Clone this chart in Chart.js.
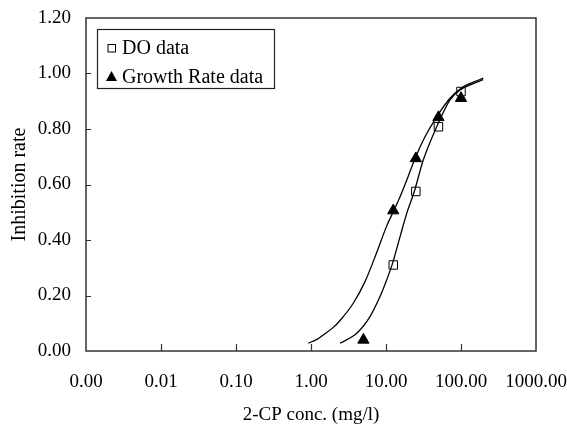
<!DOCTYPE html>
<html>
<head>
<meta charset="utf-8">
<script src="https://cdn.jsdelivr.net/npm/chart.js@4/dist/chart.umd.min.js"></script>
<style>
  html, body { margin: 0; padding: 0; background: #fff; }
  #wrap { width: 567px; height: 426px; }
</style>
</head>
<body>
<div id="wrap"><canvas id="graph" width="567" height="426"></canvas></div>
<script>
// axis ticks
const xTicks = [0.001, 0.01, 0.1, 1, 10, 100, 1000];
const xTickLabels = ['0.00', '0.01', '0.10', '1.00', '10.00', '100.00', '1000.00'];
const yTicks = [0, 0.2, 0.4, 0.6, 0.8, 1.0, 1.2];
const yTickLabels = ['0.00', '0.20', '0.40', '0.60', '0.80', '1.00', '1.20'];

// measured points
const doConc = [12.5, 25, 50, 100];
const doInhib = [0.31, 0.575, 0.808, 0.935];
const growthConc = [5, 12.5, 25, 50, 100];
const growthInhib = [0.04, 0.506, 0.694, 0.842, 0.911];

// fitted curves
const doFitConc = [2.44, 4.07, 6.12, 8.32, 10.2, 12.1, 15.4, 18.9, 23.8, 31.4, 47.4, 71.3, 97, 140, 198];
const doFitInhib = [0.028, 0.064, 0.124, 0.196, 0.256, 0.312, 0.412, 0.496, 0.574, 0.688, 0.808, 0.905, 0.941, 0.962, 0.978];
const growthFitConc = [0.92, 1.2, 1.46, 2.0, 2.44, 3.66, 5.25, 7.52, 10.2, 12.5, 15.4, 19.8, 24.4, 33.1, 47.4, 71.3, 107, 146, 198];
const growthFitInhib = [0.028, 0.042, 0.058, 0.086, 0.11, 0.172, 0.25, 0.355, 0.45, 0.502, 0.556, 0.63, 0.694, 0.772, 0.844, 0.911, 0.952, 0.969, 0.983];

const FONT = 'Liberation Serif, Times New Roman, serif';

function pts(xs, ys) {
  return xs.map((v, i) => ({ x: v, y: ys[i] }));
}

// no extra room for overhanging end labels, the layout padding decides
function noOverhang(s) {
  s.paddingTop = 0;
  s.paddingBottom = 0;
  s.paddingLeft = 0;
  s.paddingRight = 0;
}

// box around the plot, inside tick marks and the boxed legend
const framePlugin = {
  id: 'frame',
  afterDraw(chart) {
    const ctx = chart.ctx;
    const a = chart.chartArea;
    const sx = chart.scales.x, sy = chart.scales.y;
    ctx.save();
    ctx.strokeStyle = '#333';
    ctx.lineWidth = 1.5;
    ctx.strokeRect(a.left, a.top, a.right - a.left, a.bottom - a.top);

    ctx.lineWidth = 1.2;
    ctx.beginPath();
    xTicks.slice(1, -1).forEach(v => {
      const px = Math.round(sx.getPixelForValue(v)) + 0.5;
      ctx.moveTo(px, a.bottom);
      ctx.lineTo(px, a.bottom - 7);
    });
    yTicks.slice(1, -1).forEach(v => {
      const py = Math.round(sy.getPixelForValue(v)) + 0.5;
      ctx.moveTo(a.left, py);
      ctx.lineTo(a.left + 5, py);
    });
    ctx.stroke();

    // legend
    const lx = a.left + 11, ly = a.top + 11, lw = 177, lh = 59;
    ctx.fillStyle = '#fff';
    ctx.fillRect(lx, ly, lw, lh);
    ctx.strokeStyle = '#222';
    ctx.lineWidth = 1.2;
    ctx.strokeRect(lx + 0.5, ly + 0.5, lw, lh);

    const items = chart.data.datasets.filter(d => d.inLegend);
    ctx.font = '20px ' + FONT;
    ctx.textBaseline = 'middle';
    items.forEach((d, i) => {
      const cy = ly + 19 + i * 28.5;
      const cx = lx + 14.5;
      ctx.lineWidth = 1;
      ctx.strokeStyle = '#000';
      ctx.fillStyle = '#000';
      if (d.pointStyle === 'rect') {
        ctx.strokeRect(cx - 3.5, cy - 3.5, 7.5, 7.5);
      } else {
        ctx.beginPath();
        ctx.moveTo(cx, cy - 5.5);
        ctx.lineTo(cx + 5.5, cy + 4.5);
        ctx.lineTo(cx - 5.5, cy + 4.5);
        ctx.closePath();
        ctx.fill();
      }
      ctx.fillText(d.label, lx + 25, cy + 1);
    });
    ctx.restore();
  }
};

const ctx = document.getElementById('graph').getContext('2d');
const chart = new Chart(ctx, {
  type: 'scatter',
  data: {
    datasets: [
      {
        label: 'DO fit',
        data: pts(doFitConc, doFitInhib),
        showLine: true,
        borderColor: '#000',
        borderWidth: 1.3,
        pointRadius: 0,
        cubicInterpolationMode: 'monotone'
      },
      {
        label: 'Growth Rate fit',
        data: pts(growthFitConc, growthFitInhib),
        showLine: true,
        borderColor: '#000',
        borderWidth: 1.3,
        pointRadius: 0,
        cubicInterpolationMode: 'monotone'
      },
      {
        label: 'DO data',
        inLegend: true,
        data: pts(doConc, doInhib),
        pointStyle: 'rect',
        pointRadius: 6,
        borderColor: '#000',
        borderWidth: 1,
        backgroundColor: 'rgba(255,255,255,0)'
      },
      {
        label: 'Growth Rate data',
        inLegend: true,
        data: pts(growthConc, growthInhib),
        pointStyle: 'triangle',
        pointRadius: 6.5,
        borderColor: '#000',
        borderWidth: 1,
        backgroundColor: '#000'
      }
    ]
  },
  options: {
    responsive: false,
    animation: false,
    layout: { padding: { top: 18, right: 31, left: 0, bottom: 0 } },
    plugins: {
      legend: { display: false },
      tooltip: { enabled: false }
    },
    scales: {
      x: {
        type: 'logarithmic',
        min: 0.001,
        max: 1000,
        afterBuildTicks: s => { s.ticks = xTicks.map(v => ({ value: v })); },
        afterFit: s => { s.height = 75; noOverhang(s); },
        grid: { display: false },
        border: { display: false },
        ticks: {
          autoSkip: false,
          maxRotation: 0,
          padding: 12,
          color: '#000',
          font: { family: FONT, size: 19 },
          callback: (v, i) => xTickLabels[i]
        },
        title: {
          display: true,
          text: '2-CP conc. (mg/l)',
          color: '#000',
          font: { family: FONT, size: 19 },
          padding: { top: 0, bottom: 0 }
        }
      },
      y: {
        min: 0,
        max: 1.2,
        afterBuildTicks: s => { s.ticks = yTicks.map(v => ({ value: v })); },
        afterFit: s => { s.width = 86; noOverhang(s); },
        grid: { display: false },
        border: { display: false },
        ticks: {
          padding: 7,
          color: '#000',
          font: { family: FONT, size: 19 },
          callback: (v, i) => yTickLabels[i]
        },
        title: {
          display: true,
          text: 'Inhibition rate',
          color: '#000',
          font: { family: FONT, size: 20 },
          padding: { top: 8, bottom: 0 }
        }
      }
    }
  },
  plugins: [framePlugin]
});
</script>
</body>
</html>
